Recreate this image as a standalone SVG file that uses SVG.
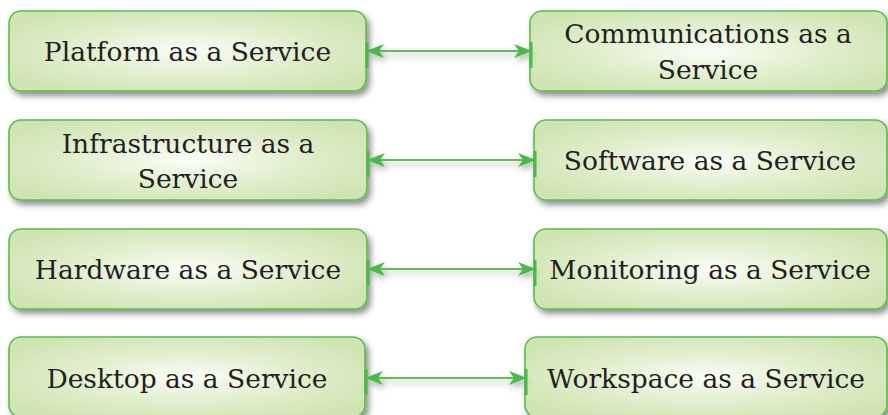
<svg xmlns="http://www.w3.org/2000/svg" width="888" height="415" viewBox="0 0 888 415">
<style>
.box{fill:url(#g);stroke:#5cbb4e;stroke-width:1.6;filter:url(#sh)}
.t{font-family:"DejaVu Serif","Liberation Serif",serif;font-size:26.5px;fill:#231f20;text-anchor:middle}
.c{stroke:#5cbf50;stroke-width:2.2;fill:none;marker-start:url(#ah);marker-end:url(#ah)}
.bar{stroke:#4cb848;stroke-width:3}
</style>
<defs>
<radialGradient id="g" cx="0.5" cy="0.5" r="0.6">
<stop offset="0" stop-color="#fbfdf7"/>
<stop offset="0.5" stop-color="#e2efcf"/>
<stop offset="1" stop-color="#cfe4b2"/>
</radialGradient>
<filter id="sh" x="-5%" y="-10%" width="115%" height="130%">
<feDropShadow dx="3" dy="4" stdDeviation="3" flood-color="#000" flood-opacity="0.45"/>
</filter>
<filter id="lsh" x="-5%" y="-50%" width="110%" height="250%">
<feDropShadow dx="2" dy="4" stdDeviation="3" flood-color="#000" flood-opacity="0.3"/>
</filter>
<marker id="ah" viewBox="0 0 18 14" refX="17" refY="7" markerWidth="18" markerHeight="14" markerUnits="userSpaceOnUse" orient="auto-start-reverse">
<path d="M0,0 L18,7 L0,14 L5,7 Z" fill="#4cb848"/>
</marker>
</defs>
<rect width="888" height="415" fill="#fff"/>
<g id="paas"><rect class="box" x="9" y="11" width="357" height="80" rx="12"/><text class="t" x="187.5" y="61">Platform as a Service</text></g>
<g id="caas"><rect class="box" x="530" y="11" width="357" height="80" rx="12"/><text class="t" x="708" y="43">Communications as a</text><text class="t" x="708" y="79">Service</text></g>
<g id="iaas"><rect class="box" x="9" y="120" width="358" height="80" rx="12"/><text class="t" x="188" y="153">Infrastructure as a</text><text class="t" x="188" y="188">Service</text></g>
<g id="saas"><rect class="box" x="534" y="120" width="353" height="80" rx="12"/><text class="t" x="710" y="170">Software as a Service</text></g>
<g id="haas"><rect class="box" x="9" y="229" width="358" height="80" rx="12"/><text class="t" x="188" y="279">Hardware as a Service</text></g>
<g id="maas"><rect class="box" x="534" y="229" width="353" height="80" rx="12"/><text class="t" x="710" y="279">Monitoring as a Service</text></g>
<g id="daas"><rect class="box" x="9" y="337" width="356" height="80" rx="12"/><text class="t" x="187" y="388">Desktop as a Service</text></g>
<g id="waas"><rect class="box" x="525" y="337" width="362" height="80" rx="12"/><text class="t" x="706" y="388">Workspace as a Service</text></g>
<g id="connectors">
<g filter="url(#lsh)">
<line class="c" x1="367" y1="51" x2="531" y2="51"/>
<line class="c" x1="368" y1="160" x2="535" y2="160"/>
<line class="c" x1="368" y1="269" x2="535" y2="269"/>
<line class="c" x1="366" y1="378" x2="526" y2="378"/>
</g>
<line class="bar" x1="367" y1="42" x2="367" y2="68"/>
<line class="bar" x1="531" y1="42" x2="531" y2="68"/>
<line class="bar" x1="368" y1="151" x2="368" y2="177"/>
<line class="bar" x1="535" y1="151" x2="535" y2="177"/>
<line class="bar" x1="368" y1="260" x2="368" y2="286"/>
<line class="bar" x1="535" y1="260" x2="535" y2="286"/>
<line class="bar" x1="366" y1="369" x2="366" y2="395"/>
<line class="bar" x1="526" y1="369" x2="526" y2="395"/>
</g>
</svg>
